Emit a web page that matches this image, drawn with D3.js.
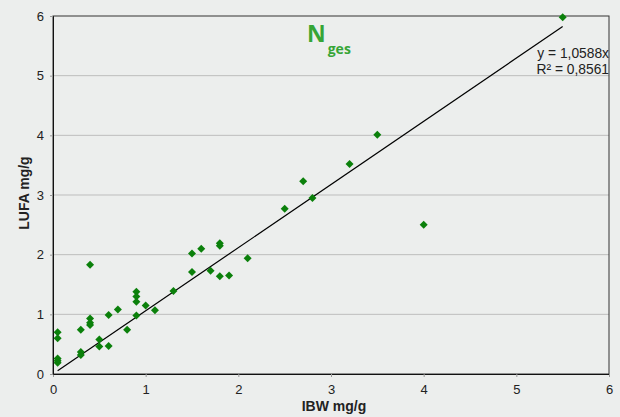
<!DOCTYPE html>
<html>
<head>
<meta charset="utf-8">
<script src="https://cdn.jsdelivr.net/npm/d3@7"></script>
<style>
  html, body { margin: 0; padding: 0; background: #eceeed; }
  svg { display: block; }
</style>
</head>
<body>
<svg id="chart" width="620" height="417"></svg>
<script>
// IBW vs LUFA measurements (mg/g), total nitrogen
const ibw  = [0.05, 0.05, 0.05, 0.05, 0.05, 0.3, 0.3, 0.3, 0.4, 0.4, 0.4, 0.4,
              0.5, 0.5, 0.6, 0.6, 0.7, 0.8, 0.9, 0.9, 0.9, 0.9, 1.0, 1.1, 1.3,
              1.5, 1.5, 1.6, 1.7, 1.8, 1.8, 1.8, 1.9, 2.1, 2.5, 2.7, 2.8, 3.2,
              3.5, 4.0, 5.5];
const lufa = [0.70, 0.60, 0.26, 0.22, 0.19, 0.74, 0.37, 0.32, 1.83, 0.93, 0.86, 0.82,
              0.58, 0.46, 0.99, 0.47, 1.08, 0.74, 1.38, 1.30, 1.21, 0.98, 1.15, 1.07, 1.39,
              2.02, 1.71, 2.10, 1.73, 2.19, 2.15, 1.64, 1.65, 1.94, 2.77, 3.23, 2.95, 3.52,
              4.01, 2.50, 5.98];
const slope = 1.0588;
const rSquared = "0,8561";
const xTicks = [0, 1, 2, 3, 4, 5, 6];
const yTicks = [0, 1, 2, 3, 4, 5, 6];

const FONT = "'Liberation Sans', Arial, sans-serif";
const svg = d3.select("#chart");
const m = { left: 53, right: 11, top: 16, bottom: 43 };
const W = 620, H = 417;

const x = d3.scaleLinear().domain([0, 6]).range([m.left, W - m.right]);
const y = d3.scaleLinear().domain([0, 6]).range([H - m.bottom, m.top]);

// horizontal gridlines
svg.append("g").selectAll("line").data(yTicks.filter(t => t > 0 && t < 6)).join("line")
  .attr("x1", x(0)).attr("x2", x(6))
  .attr("y1", d => y(d)).attr("y2", d => y(d))
  .attr("stroke", "#bdbdbd").attr("stroke-width", 1);

// frame
svg.append("rect")
  .attr("x", x(0)).attr("y", y(6))
  .attr("width", x(6) - x(0)).attr("height", y(0) - y(6))
  .attr("fill", "none").attr("stroke", "#333").attr("stroke-width", 1);

// axes
const xAxis = svg.append("g").attr("transform", `translate(0,${y(0)})`)
  .call(d3.axisBottom(x).tickValues(xTicks).tickFormat(d3.format("d")).tickSize(3).tickPadding(8));
const yAxis = svg.append("g").attr("transform", `translate(${x(0)},0)`)
  .call(d3.axisLeft(y).tickValues(yTicks).tickFormat(d3.format("d")).tickSize(3).tickPadding(6));
[xAxis, yAxis].forEach(a => {
  a.select(".domain").attr("stroke", "#111");
  a.selectAll(".tick line").attr("stroke", "#999");
  a.selectAll(".tick text").attr("fill", "#222")
    .style("font-family", FONT).style("font-size", "13px");
});

// trendline through origin, spanning the data range
const xMin = d3.min(ibw), xMax = d3.max(ibw);
svg.append("line")
  .attr("x1", x(xMin)).attr("y1", y(slope * xMin))
  .attr("x2", x(xMax)).attr("y2", y(slope * xMax))
  .attr("stroke", "#000").attr("stroke-width", 1.2);

// data points as diamonds
const diamond = d3.symbol().type(d3.symbolSquare).size(32);
svg.append("g").selectAll("path").data(ibw.map((v, i) => [v, lufa[i]])).join("path")
  .attr("d", diamond)
  .attr("transform", d => `translate(${x(d[0])},${y(d[1])}) rotate(45)`)
  .attr("fill", "#0b800b");

// regression label
const eqStyle = s => s.attr("text-anchor", "end").attr("x", x(6))
  .style("font-family", FONT).style("font-size", "13.8px").attr("fill", "#222");
svg.append("text").call(eqStyle).attr("y", 57.5)
  .text(`y = ${slope.toFixed(4).replace(".", ",")}x`);
svg.append("text").call(eqStyle).attr("y", 73.5)
  .text(`R² = ${rSquared}`);

// title N_ges
const title = svg.append("text")
  .attr("x", 307).attr("y", 42)
  .style("font-family", "'Open Sans', sans-serif").attr("fill", "#36a536").style("font-weight", "bold");
title.append("tspan").style("font-size", "23px").text("N");
title.append("tspan").style("font-size", "14px").attr("dx", 2).attr("dy", 12).text("ges");

// axis titles
svg.append("text")
  .attr("x", 334).attr("y", 411).attr("text-anchor", "middle")
  .style("font-family", FONT).style("font-size", "14px").style("font-weight", "bold")
  .attr("fill", "#222").text("IBW mg/g");
svg.append("text")
  .attr("transform", `translate(29,${(y(0) + y(6)) / 2 - 2}) rotate(-90)`).attr("text-anchor", "middle")
  .style("font-family", FONT).style("font-size", "14px").style("font-weight", "bold")
  .attr("fill", "#222").text("LUFA mg/g");
</script>
</body>
</html>
